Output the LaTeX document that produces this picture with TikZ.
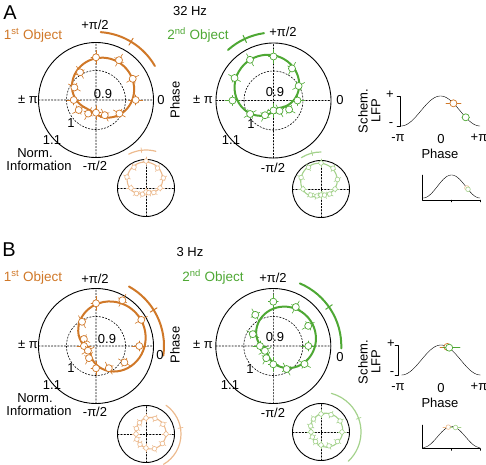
\documentclass[tikz,border=0pt]{standalone}
\usepackage{fontspec}
\setmainfont{Liberation Sans}
\usetikzlibrary{positioning}
\definecolor{objone}{RGB}{208,120,40}
\definecolor{objtwo}{RGB}{78,168,52}
\definecolor{objonelt}{RGB}{236,186,142}
\definecolor{objtwolt}{RGB}{164,210,140}
\begin{document}
\begin{tikzpicture}[x=1pt,y=1pt,line join=round,line cap=round]
	\tikzset{every node/.style={font=\fontsize{13}{15}\selectfont,inner sep=0pt},
		rim/.style={line width=0.9pt},
		grid/.style={dash pattern=on 1.6pt off 1.6pt,line width=0.6pt},
		fitline/.style={line width=2pt},
		whisk/.style={line width=0.6pt},
		marker/.style={circle,fill=white,line width=0.7pt,minimum size=7pt},
		smallmarker/.style={circle,fill=white,line width=0.6pt,minimum size=4.6pt}}
	\useasboundingbox (0,0) rectangle (486,464);
	% panel letters
	\node (lA) at (10,451) {\fontsize{20}{22}\selectfont A};
	\node (fA) at (190,453) {32 Hz};
	\node (lB) at (9,214) {\fontsize{20}{22}\selectfont B};
	\node (fB) at (190,212) {3 Hz};
	% big polar plots: centre/colour/fit a,b,phase/arc ends/radii at 0,30,...,330
	\foreach \cx/\cy/\col/\a/\b/\ph/\lo/\hi/\radii [count=\k] in {
		96/364/objone/28/16/59/30/86/{39.7,42.4,46,42.7,32,25,22.3,20,15.7,12.7,17.5,27},
		273.5/363.5/objtwo/28/19/115/98/132/{24,29,37,44,47,45,41,27,17,10,12,18},
		96/118/objone/30/22/32/-8/61/{43.3,52.3,52.8,42.7,28,14,12,9.3,14,22.3,25.6,32.8},
		273.3/118/objtwo/27/18/35/-2/67/{35,40.3,45,44.3,36,23.7,13.3,9.7,14,18.3,26.6,36}}
	{
		\begin{scope}[shift={(\cx,\cy)}]
			\draw[rim] (0,0) circle[radius=57.5];
			\draw[grid] (-57.5,0)--(57.5,0) (0,-57.5)--(0,57.5) (0,0) circle[radius=29.5];
			\draw[\col,fitline] plot[domain=0:360,samples=73,smooth] (\x:{\a+\b*cos(\x-\ph)});
			\draw[\col,fitline] (\lo:68) arc[start angle=\lo,end angle=\hi,radius=68];
			\draw[\col,line width=1pt] (\ph:64)--(\ph:72);
			\foreach \r [count=\i from 0] in \radii {
				\draw[\col,whisk,shift={(30*\i:\r)},rotate=30*\i] (-7,0)--(7,0) (0,-5)--(0,5);
				\node[marker,draw=\col] (m\k-\i) at (30*\i:\r) {};
			}
		\end{scope}
	}
	% small polar insets
	\foreach \cx/\cy/\col/\a/\b/\ph/\lo/\hi/\ra/\radii [count=\k] in {
		146/276/objonelt/15/11/97/75/117/38/{14,20,23,27,24,22,15,11,7,4,5.5,9},
		321/275/objtwolt/16/10/104/90/122/37/{14,19,24,26,25,23,18,12,8,6,7,10},
		146/30/objonelt/15/5/10/-60/55/35/{20,19.5,18,16,13,11,10,10.5,12,14,17,19},
		321/32/objtwolt/16/6/20/-47/75/40/{21,22,20,18,15,12,10,10,11,13,16,19}}
	{
		\begin{scope}[shift={(\cx,\cy)}]
			\draw[rim] (0,0) circle[radius=28.5];
			\draw[grid] (-28.5,0)--(28.5,0) (0,-28.5)--(0,28.5);
			\draw[\col,line width=1.1pt] plot[domain=0:360,samples=73,smooth] (\x:{\a+\b*cos(\x-\ph)});
			\draw[\col,line width=1.2pt] (\lo:\ra) arc[start angle=\lo,end angle=\hi,radius=\ra];
			\draw[\col,line width=0.7pt] (\ph:\ra-2.5)--(\ph:\ra+2.5);
			\foreach \r [count=\i from 0] in \radii {
				\draw[\col,whisk,shift={(30*\i:\r)},rotate=30*\i] (-4,0)--(4,0) (0,-3)--(0,3);
				\node[smallmarker,draw=\col] (mi\k-\i) at (30*\i:\r) {};
			}
		\end{scope}
	}
	% polar axis labels
	\foreach \n/\px/\py/\txt in {pA1/95/439/{+π/2}, qA1/95/298/{-π/2}, lA1/28/364/{± π}, rA1/161/364/0,
		cA1/103/370/0.9, dA1/71/341/1, eA1/52/324/1.1,
		pA2/283/432/{+π/2}, qA2/273/296/{-π/2}, lA2/203/364/{± π}, rA2/340/364/0,
		cA2/275/372/0.9, dA2/251/340/1, eA2/231/324/1.1,
		pB1/95/185/{+π/2}, qB1/95/52/{-π/2}, lB1/28/119/{± π}, rB1/160/109/0,
		cB1/107/125/0.9, dB1/71/96/1, eB1/52/79/1.1,
		pB2/273/186/{+π/2}, qB2/273/51/{-π/2}, lB2/203/119/{± π}, rB2/340/107/0,
		cB2/275/127/0.9, dB2/250/95/1, eB2/230/79/1.1}
	\node (\n) at (\px,\py) {\txt};
	\node[rotate=90] (phA) at (175,364) {Phase};
	\node[rotate=90] (phB) at (175,119) {Phase};
	\node (normA) at (35,311) {Norm.};
	\node[below=3.5pt of normA,xshift=4pt] (infoA) {Information};
	\node (normB) at (35,66) {Norm.};
	\node[below=3.5pt of normB,xshift=4pt] (infoB) {Information};
	\node[objone,font=\fontsize{13.5}{15}\selectfont] (objA1) at (33,429) {1\textsuperscript{st} Object};
	\node[objtwo,font=\fontsize{13.5}{15}\selectfont] (objA2) at (198,429) {2\textsuperscript{nd} Object};
	\node[objone,font=\fontsize{13.5}{15}\selectfont] (objB1) at (33,187) {1\textsuperscript{st} Object};
	\node[objtwo,font=\fontsize{13.5}{15}\selectfont] (objB2) at (213,187) {2\textsuperscript{nd} Object};
	% schematic LFP, panel A
	\draw[thin] (397,368)--(400,368)--(400,338)--(397,338);
	\draw[thin] plot[domain=-180:180,samples=61,smooth] ({440.5+\x/180*39.5},{353+15*cos(\x)});
	\draw[objone,whisk] (446,360.7)--(461,360.7);
	\node[marker,draw=objone] (sA1) at (453.4,360.7) {};
	\draw[objtwo,whisk] (462,346.7)--(469.5,346.7);
	\node[marker,draw=objtwo] (sA2) at (465.7,346.7) {};
	\node (plusA) at (390,369) {+};
	\node (minusA) at (391,339) {-};
	\node[rotate=90] (schA) at (363,353) {Schem.};
	\node[rotate=90] (lfpA) at (376,353) {LFP};
	\node (mpA) at (398,326) {-π};
	\node (zpA) at (441,325) {0};
	\node (ppA) at (479,326) {+π};
	\node (xA) at (440,310) {Phase};
	\draw[thin] (422,289)--(422,264)--(480,264) (451,264)--(451,262) (480,264)--(480,262);
	\draw[thin] plot[domain=-180:180,samples=61,smooth] ({451.5+\x/180*28.5},{277.5+11.5*cos(\x)});
	\node[smallmarker,draw=objonelt] (tA1) at (466.9,276.1) {};
	\node[smallmarker,draw=objtwolt] (tA2) at (468,274.7) {};
	% schematic LFP, panel B
	\draw[thin] (395,119)--(398,119)--(398,89)--(395,89);
	\draw[thin] plot[domain=-180:180,samples=61,smooth] ({441+\x/180*39.5},{104+15*cos(\x)});
	\draw[objone,whisk] (440,117.1)--(457,117.1);
	\node[marker,draw=objone] (sB1) at (447.4,117.1) {};
	\draw[objtwo,whisk] (443,116.6)--(460,116.6);
	\node[marker,draw=objtwo] (sB2) at (449.2,116.3) {};
	\node (plusB) at (391,120) {+};
	\node (minusB) at (392,90) {-};
	\node[rotate=90] (schB) at (363,102) {Schem.};
	\node[rotate=90] (lfpB) at (376,102) {LFP};
	\node (mpB) at (398,77) {-π};
	\node (zpB) at (441,76) {0};
	\node (ppB) at (479,77) {+π};
	\node (xB) at (440,61) {Phase};
	\draw[thin] (422,39)--(422,15.5)--(480,15.5) (451,15.5)--(451,13.5) (480,15.5)--(480,13.5);
	\draw[thin] plot[domain=-180:180,samples=61,smooth] ({451.5+\x/180*28.5},{27+10.5*cos(\x)});
	\draw[objonelt,whisk] (443,36.9)--(453,36.9);
	\node[smallmarker,draw=objonelt] (tB1) at (448.3,36.9) {};
	\draw[objtwolt,whisk] (450,36.5)--(461,36.5);
	\node[smallmarker,draw=objtwolt] (tB2) at (455.5,36.5) {};
\end{tikzpicture}
\end{document}
